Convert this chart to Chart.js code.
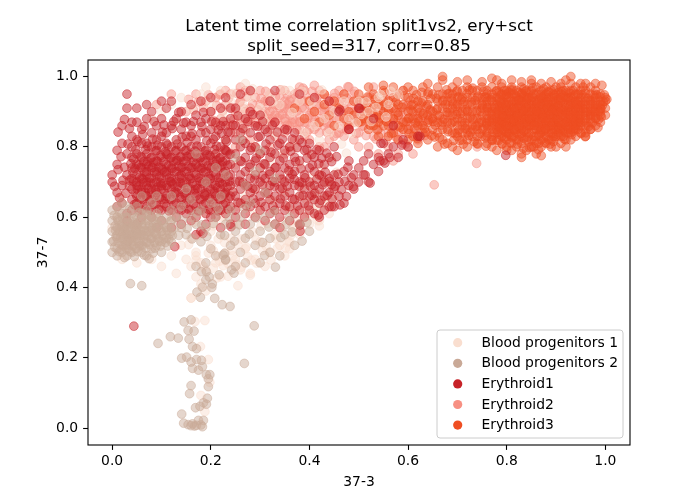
<!DOCTYPE html>
<html><head><meta charset="utf-8">
<script src="https://cdn.jsdelivr.net/npm/chart.js@4.4.0/dist/chart.umd.min.js"></script>
<style>html,body{margin:0;padding:0;background:#fff;}canvas{display:block;}</style>
</head><body>
<canvas id="c" width="700" height="500"></canvas>
<script>
const categories = ['Blood progenitors 1','Blood progenitors 2','Erythroid1','Erythroid2','Erythroid3'];
const titleLines = ['Latent time correlation split1vs2, ery+sct','split_seed=317, corr=0.85'];
const xLabel = '37-3';
const yLabel = '37-7';
const xTicks = [0, 0.2, 0.4, 0.6, 0.8, 1.0];
const yTicks = [0, 0.2, 0.4, 0.6, 0.8, 1.0];

// values, flat pairs x,y
const bp1 = [
.15,.48,.16,.46,.17,.50,.18,.47,.19,.45,.17,.43,.18,.41,.19,.39,.16,.37,.20,.52,.21,.47,.22,.43,.23,.50,.24,.54,.25,.48,.26,.45,.27,.51,.28,.44,.29,.48,.30,.53,
.31,.46,.32,.50,.33,.55,.34,.52,.35,.49,.36,.53,.37,.57,.38,.55,.39,.60,.40,.58,.41,.62,.42,.59,.43,.64,.44,.61,.45,.66,.36,.62,.38,.66,.40,.69,.42,.72,.44,.70,
.20,.56,.21,.62,.22,.59,.23,.65,.24,.68,.25,.63,.26,.58,.26,.70,.27,.66,.28,.61,.28,.72,.29,.68,.30,.63,.30,.74,.31,.69,.32,.65,.32,.76,.33,.62,.34,.71,.34,.78,
.35,.67,.36,.73,.37,.80,.38,.75,.39,.84,.40,.78,.41,.86,.42,.82,.43,.88,.44,.84,.45,.90,.46,.86,.47,.93,.48,.88,.50,.93,.52,.90,.54,.94,.56,.92,.58,.95,
.10,.90,.12,.92,.14,.94,.16,.91,.18,.95,.20,.92,.22,.96,.24,.93,.26,.90,.28,.94,.30,.91,.32,.95,.34,.92,.36,.96,.38,.93,.08,.88,.13,.87,.19,.97,.27,.98,
.02,.66,.06,.62,.10,.63,.12,.60,.03,.70,.15,.70,.19,.66,.23,.69,.17,.74,.21,.78,.25,.75,.29,.80,.33,.84,.31,.87,.27,.84,.23,.82,
.00,.57,.01,.60,.02,.48,.05,.47,.08,.48,.10,.46,.12,.49,.14,.52,.11,.55,.13,.44,.16,.54,.09,.61,
.168,.303,.188,.306,.179,.232,.195,.195,.198,.13,.180,.093,.188,.047,.17,.478,.16,.37,.212,.427,.262,.458,.28,.435,.293,.469,.225,.462,.17,.49,.185,.46,.36,.51,.357,.53,.417,.59,.42,.575,
.155,.522,.165,.585,.175,.548,.185,.612,.195,.498,.205,.575,.215,.538,.225,.602,.235,.468,.245,.578,.255,.522,.265,.642,.275,.488,.285,.558,.295,.612,.305,.505,
.315,.582,.325,.648,.335,.512,.345,.588,.355,.632,.365,.575,.375,.618,.385,.685,.395,.648,.405,.712,.415,.668,.425,.742,.435,.698,.445,.768,.455,.728,.465,.808,
.475,.782,.485,.838,.495,.868,.505,.892,.515,.928,.525,.872,.535,.912,.545,.948,.555,.885,.565,.958,
.225,.888,.245,.952,.265,.918,.285,.965,.305,.885,.325,.928,.345,.962,.365,.898,.385,.958,.405,.928,.425,.962,.205,.455,.235,.432,.255,.405,.215,.49,.245,.49,
.205,.505,.218,.475,.228,.528,.242,.505,.252,.465,.262,.538,.272,.515,.282,.478,.292,.535,.302,.575,.312,.518,.322,.478,.332,.538,.342,.565,.352,.512,.362,.548,
.372,.592,.382,.562,.392,.618,.402,.602,.412,.638,.422,.622,.432,.655,.442,.642
];
const bp2 = [
.00,.53,.00,.56,.00,.59,.00,.62,.00,.50,.01,.51,.01,.54,.01,.57,.01,.60,.01,.63,.01,.49,.02,.52,.02,.55,.02,.58,.02,.61,.02,.50,.02,.64,
.03,.51,.03,.54,.03,.57,.03,.60,.03,.63,.03,.49,.04,.52,.04,.55,.04,.58,.04,.61,.04,.50,.04,.53,.05,.51,.05,.54,.05,.57,.05,.60,.05,.56,.05,.63,
.06,.52,.06,.55,.06,.58,.06,.61,.06,.50,.07,.53,.07,.56,.07,.59,.07,.62,.07,.49,.08,.51,.08,.54,.08,.57,.08,.60,.08,.64,.09,.52,.09,.55,.09,.58,.09,.61,
.10,.53,.10,.56,.10,.59,.10,.50,.11,.54,.11,.57,.11,.60,.12,.53,.12,.56,.12,.59,.12,.62,
.02,.56,.03,.55,.04,.57,.03,.58,.05,.55,.02,.53,.04,.54,.06,.56,.01,.55,.03,.52,.025,.565,.035,.535,.045,.585,.015,.575,.055,.525,.065,.545,.075,.575,.085,.555,
.005,.515,.008,.545,.006,.575,.004,.605,.012,.528,.015,.558,.013,.588,.018,.508,.022,.538,.024,.568,.021,.598,.027,.522,.029,.552,.032,.582,.034,.508,.036,.538,
.038,.568,.041,.598,.043,.518,.046,.548,.048,.578,.052,.502,.054,.532,.057,.562,.059,.592,.062,.518,.064,.548,.067,.578,.069,.608,.072,.528,.074,.558,.078,.538,
.081,.568,.083,.498,.086,.528,.088,.588,.092,.538,.095,.568,.098,.518,.102,.548,.105,.578,.108,.528,.112,.562,.115,.538,.118,.588,.122,.548,.128,.572,.025,.485,
.045,.488,.065,.492,.075,.482,.015,.615,.035,.622,.055,.612,.075,.605,.095,.598,
.003,.532,.007,.562,.011,.592,.014,.502,.017,.542,.019,.572,.023,.518,.026,.552,.028,.598,.031,.532,.033,.562,.037,.502,.039,.548,.042,.578,.044,.532,.047,.562,
.049,.512,.051,.552,.053,.585,.056,.518,.058,.548,.061,.572,.063,.532,.066,.562,.068,.512,.071,.548,.073,.592,.076,.522,.079,.562,.082,.542,.084,.582,.087,.512,
.089,.552,.093,.578,.096,.532,.099,.558,.104,.538,.109,.572,.113,.518,.117,.552,
.13,.60,.14,.57,.14,.63,.15,.55,.16,.60,.16,.65,.17,.58,.18,.62,.18,.53,.19,.57,.20,.64,.20,.51,.21,.60,.22,.55,.22,.66,.23,.58,.24,.52,.24,.62,.25,.56,.26,.60,
.26,.50,.27,.54,.28,.58,.28,.64,.29,.52,.30,.56,.31,.60,.32,.54,.33,.58,.34,.49,.35,.55,.36,.60,.37,.52,.38,.58,.40,.56,.30,.47,.25,.46,.23,.48,.21,.49,.19,.47,
.17,.46,.27,.47,.32,.50,.12,.66,.15,.68,.19,.70,.23,.72,.27,.69,.31,.67,.09,.66,.06,.66,.21,.74,.25,.77,.29,.73,.33,.71,.17,.78,.26,.82,.30,.79,
.135,.548,.142,.592,.152,.568,.162,.538,.172,.612,.182,.578,.192,.545,.205,.582,.215,.625,.228,.548,.238,.598,.248,.532,.258,.578,.268,.625,.278,.552,.292,.598,
.305,.528,.318,.572,.328,.615,.342,.542,.352,.578,.365,.558,.385,.532,.395,.585,
.037,.411,.060,.405,.093,.241,.118,.26,.134,.256,.146,.302,.16,.308,.154,.278,.166,.276,.156,.253,.163,.232,.171,.226,.141,.199,.151,.202,.160,.188,.171,.195,
.181,.193,.163,.17,.175,.165,.183,.175,.191,.152,.198,.152,.195,.14,.160,.121,.157,.098,.195,.118,.193,.085,.185,.072,.178,.062,.169,.058,.191,.068,.141,.040,
.145,.014,.154,.010,.163,.012,.171,.008,.180,.009,.185,.022,.175,.022,.167,.006,.183,.004,.160,.007,.268,.184,.288,.291,.331,.458,.309,.491,.208,.369,.223,.351,
.239,.346,.179,.372,.172,.387,.183,.401,.202,.40,.190,.422,.197,.43,.203,.41,.181,.445,.191,.445,.217,.436,.247,.441,.230,.478,.225,.492,.228,.497,.242,.45
];
const ery1 = [
.04,.62,.04,.65,.04,.68,.04,.71,.04,.74,.04,.77,.04,.80,
.05,.63,.05,.66,.05,.69,.05,.72,.05,.75,.05,.78,.05,.64,.05,.70,
.06,.62,.06,.65,.06,.68,.06,.71,.06,.74,.06,.77,.06,.81,.06,.67,
.07,.63,.07,.66,.07,.69,.07,.72,.07,.75,.07,.78,.07,.73,.07,.70,
.08,.62,.08,.65,.08,.68,.08,.71,.08,.74,.08,.77,.08,.80,.08,.67,
.09,.64,.09,.67,.09,.70,.09,.73,.09,.76,.09,.79,.09,.82,.09,.72,
.10,.62,.10,.65,.10,.68,.10,.71,.10,.74,.10,.77,.10,.80,.10,.69,
.11,.63,.11,.66,.11,.69,.11,.72,.11,.75,.11,.78,.11,.73,.11,.84,
.12,.62,.12,.65,.12,.68,.12,.71,.12,.74,.12,.77,.12,.80,.12,.70,
.13,.60,.13,.64,.13,.67,.13,.70,.13,.73,.13,.76,.13,.79,.13,.82,
.14,.62,.14,.65,.14,.68,.14,.71,.14,.74,.14,.77,.14,.80,.14,.72,
.15,.61,.15,.64,.15,.67,.15,.70,.15,.73,.15,.76,.15,.79,.15,.83,
.16,.62,.16,.65,.16,.68,.16,.71,.16,.74,.16,.77,.16,.80,.16,.86,
.17,.60,.17,.63,.17,.66,.17,.69,.17,.72,.17,.75,.17,.78,.17,.82,
.18,.62,.18,.65,.18,.68,.18,.71,.18,.74,.18,.77,.18,.80,.18,.84,
.19,.61,.19,.64,.19,.67,.19,.70,.19,.73,.19,.76,.19,.79,.19,.88,
.20,.62,.20,.65,.20,.68,.20,.71,.20,.74,.20,.77,.20,.81,.20,.85,
.21,.60,.21,.63,.21,.66,.21,.69,.21,.72,.21,.75,.21,.78,.21,.83,
.22,.62,.22,.65,.22,.68,.22,.71,.22,.74,.22,.77,.22,.80,.22,.86,
.23,.61,.23,.64,.23,.67,.23,.70,.23,.73,.23,.76,.23,.79,.23,.82,
.24,.63,.24,.66,.24,.69,.24,.72,.24,.75,.24,.78,.24,.84,.24,.88,
.045,.636,.047,.668,.043,.702,.046,.738,.044,.765,.048,.792,.055,.618,.057,.652,.053,.688,.056,.714,.054,.748,.058,.772,.052,.815,
.065,.638,.067,.671,.063,.698,.066,.728,.064,.758,.068,.792,.062,.835,.075,.622,.077,.648,.073,.682,.076,.712,.074,.745,.078,.768,.072,.802,
.085,.636,.087,.662,.083,.696,.086,.728,.084,.756,.088,.788,.082,.822,.095,.622,.097,.656,.093,.686,.096,.715,.094,.742,.098,.775,.092,.805,
.105,.638,.107,.668,.103,.695,.106,.728,.104,.758,.108,.786,.102,.842,.115,.618,.117,.652,.113,.684,.116,.712,.114,.746,.118,.768,.112,.805,
.125,.635,.127,.666,.123,.694,.126,.728,.124,.758,.128,.788,.122,.852,.135,.622,.137,.655,.133,.688,.136,.716,.134,.745,.138,.772,.132,.808,
.145,.635,.147,.668,.143,.695,.146,.728,.144,.758,.148,.788,.142,.828,.155,.622,.157,.652,.153,.684,.156,.716,.154,.745,.158,.778,.152,.812,
.165,.638,.167,.668,.163,.696,.166,.726,.164,.758,.168,.788,.162,.838,.175,.618,.177,.652,.173,.682,.176,.712,.174,.742,.178,.768,.172,.802,
.185,.636,.187,.666,.183,.696,.186,.728,.184,.756,.188,.788,.182,.858,.195,.622,.197,.654,.193,.686,.196,.716,.194,.746,.198,.775,.192,.818,
.205,.638,.207,.668,.203,.695,.206,.728,.204,.758,.208,.792,.202,.872,.215,.618,.217,.652,.213,.684,.216,.712,.214,.742,.218,.768,.212,.802,
.225,.636,.227,.664,.223,.694,.226,.726,.224,.758,.228,.792,.222,.838,.235,.622,.237,.654,.233,.686,.236,.716,.234,.748,.238,.778,.232,.815,
.035,.705,.042,.728,.052,.678,.058,.742,.062,.708,.068,.662,.072,.758,.078,.698,.082,.742,.088,.678,.092,.758,.098,.698,.102,.735,.108,.652,.112,.778,.118,.702,
.122,.738,.128,.672,.132,.762,.138,.698,.142,.742,.148,.662,.152,.772,.158,.708,.162,.742,.168,.678,.172,.768,.178,.702,.182,.738,.188,.662,.192,.778,.198,.708,
.202,.742,.208,.672,.212,.762,.218,.698,.222,.748,.228,.668,.232,.788,.238,.702,
.205,.822,.215,.848,.225,.872,.235,.842,.245,.862,.255,.888,.265,.852,.275,.872,.285,.892,.295,.858,.305,.872,.315,.842,.325,.862,.335,.842,.345,.822,.355,.848,
.365,.822,.375,.798,.385,.812,.395,.792,.405,.778,.415,.792,.425,.768,.435,.782,.445,.758,.455,.772,.245,.672,.265,.698,.285,.682,.305,.718,.325,.702,.345,.682,
.365,.722,.385,.698,.405,.662,.425,.718,.445,.692,.105,.862,.125,.872,.145,.868,.165,.872,.185,.898,.135,.898,.085,.872,.065,.858,
.00,.72,.00,.70,.01,.63,.01,.67,.01,.75,.02,.81,.02,.86,.02,.64,.02,.69,.03,.95,.03,.78,.03,.91,.03,.72,.03,.61,.04,.87,.04,.83,.05,.87,.05,.82,.06,.85,.06,.60,
.07,.81,.07,.88,.08,.84,.08,.90,.09,.86,.10,.83,.10,.88,.11,.81,.11,.91,.12,.86,.12,.93,.13,.88,.14,.85,.14,.90,.15,.87,.16,.83,.16,.92,.17,.89,.18,.87,.18,.93,
.19,.84,.20,.90,.20,.94,.21,.87,.22,.91,.23,.86,.23,.94,.24,.91,.10,.93,.07,.92,.05,.91,.01,.79,
.005,.688,.012,.735,.015,.655,.018,.772,.022,.705,.025,.742,.028,.668,.032,.808,.035,.688,.038,.752,.012,.842,.025,.878,.035,.852,
.03,.59,.05,.58,.08,.60,.10,.59,.12,.57,.127,.516,.14,.58,.16,.59,.18,.56,.19,.58,.20,.60,.22,.57,.24,.58,.25,.60,.27,.58,.09,.57,.17,.55,.184,.554,.241,.573,
.25,.62,.25,.66,.25,.70,.25,.74,.25,.78,.25,.82,.25,.86,.25,.91,.26,.64,.26,.68,.26,.72,.26,.76,.26,.80,.26,.84,.26,.95,
.27,.61,.27,.65,.27,.69,.27,.73,.27,.77,.27,.81,.27,.88,.28,.63,.28,.67,.28,.71,.28,.75,.28,.79,.28,.84,.28,.90,
.29,.60,.29,.64,.29,.68,.29,.72,.29,.76,.29,.80,.29,.86,.30,.62,.30,.66,.30,.70,.30,.74,.30,.78,.30,.83,.30,.89,
.31,.59,.31,.63,.31,.67,.31,.71,.31,.75,.31,.79,.31,.85,.32,.61,.32,.65,.32,.69,.32,.73,.32,.77,.32,.82,.32,.93,
.33,.58,.33,.62,.33,.66,.33,.70,.33,.74,.33,.78,.33,.87,.34,.60,.34,.64,.34,.68,.34,.72,.34,.76,.34,.81,.34,.57,
.35,.62,.35,.66,.35,.70,.35,.74,.35,.79,.35,.85,.36,.59,.36,.63,.36,.67,.36,.71,.36,.75,.36,.80,
.37,.61,.37,.65,.37,.69,.37,.73,.37,.77,.37,.84,.38,.58,.38,.62,.38,.66,.38,.70,.38,.76,.38,.82,
.39,.60,.39,.64,.39,.68,.39,.72,.39,.79,.40,.62,.40,.66,.40,.70,.40,.74,.40,.81,.41,.61,.41,.65,.41,.69,.41,.73,.41,.77,
.42,.60,.42,.64,.42,.68,.42,.72,.42,.79,.43,.62,.43,.66,.43,.70,.43,.75,.44,.63,.44,.67,.44,.71,.44,.77,.45,.63,.45,.68,.45,.72,.45,.80,
.255,.642,.258,.702,.262,.758,.265,.818,.272,.632,.275,.688,.278,.742,.282,.798,.286,.652,.289,.708,.292,.768,.296,.828,.302,.642,.305,.692,.308,.752,.312,.808,
.316,.668,.319,.722,.322,.785,.326,.632,.329,.688,.332,.742,.336,.805,.341,.652,.344,.708,.347,.768,.352,.632,.355,.688,.358,.732,.362,.788,.366,.652,.369,.708,
.372,.758,.376,.632,.379,.688,.383,.738,.387,.662,.391,.712,.395,.768,.398,.632,.402,.688,.406,.748,.411,.668,.415,.708,.419,.752,.423,.648,.427,.692,.432,.728,
.436,.662,.441,.702,.446,.652,.452,.688,.458,.722,.465,.678,.472,.702,.478,.742,.485,.712,
.46,.66,.46,.70,.47,.73,.47,.64,.48,.69,.48,.76,.49,.68,.49,.72,.50,.74,.50,.70,.51,.72,.51,.76,.52,.70,.52,.78,.53,.75,.54,.77,.54,.73,.55,.76,.55,.81,.56,.78,
.57,.80,.58,.77,.59,.82,.60,.80,.62,.83,.46,.90,.50,.91,.48,.85,.53,.88,.57,.86,.44,.93,.41,.94,.38,.95,.33,.96,.28,.96,.798,.776,.044,.29,.523,.697,.513,.72,
.489,.687,.475,.659,.462,.635,.445,.63,.418,.606,.381,.578,.381,.56,.553,.754,.543,.76,.563,.77,.587,.805,.545,.81,.624,.83,.462,.905,.502,.909,.48,.85
];
const ery2 = [
.20,.90,.21,.94,.22,.88,.23,.92,.24,.86,.24,.95,.25,.90,.26,.88,.26,.93,.27,.85,.27,.96,.28,.91,.28,.87,.29,.94,.29,.89,.30,.86,.30,.92,.30,.96,.22,.95,.25,.84,
.27,.90,.21,.86,.23,.96,.26,.97,.19,.93,.17,.95,.28,.82,.29,.80,.09,.92,.12,.95,.15,.90,.155,.935,.165,.905,.175,.928,.185,.912,.195,.948,
.31,.88,.31,.93,.32,.85,.32,.90,.32,.95,.33,.87,.33,.92,.33,.83,.34,.89,.34,.94,.34,.86,.35,.91,.35,.88,.35,.96,.35,.84,.36,.93,.36,.89,.36,.86,.37,.91,.37,.95,
.37,.87,.37,.82,.38,.89,.38,.93,.38,.85,.39,.91,.39,.87,.39,.96,.40,.89,.40,.93,.40,.85,.40,.82,.31,.90,.33,.89,.35,.93,.36,.91,.38,.87,.39,.93,.34,.91,.32,.88,
.38,.97,.36,.80,.39,.83,
.41,.90,.41,.94,.41,.87,.42,.92,.42,.88,.42,.84,.43,.90,.43,.95,.43,.86,.44,.88,.44,.93,.44,.82,.45,.90,.45,.86,.45,.94,.46,.88,.46,.92,.46,.84,.47,.91,.47,.87,
.47,.95,.48,.89,.48,.93,.48,.85,.49,.90,.49,.87,.49,.95,.50,.88,.50,.92,.50,.84,.42,.96,.44,.90,.46,.96,.48,.97,.41,.85,.43,.80,.45,.83,.47,.83,.49,.82,.50,.80,
.44,.85,.47,.89,.43,.88,.387,.967,.478,.971,.41,.975,
.205,.875,.212,.918,.218,.948,.224,.902,.231,.872,.236,.938,.242,.912,.247,.878,.253,.952,.258,.925,.262,.862,.267,.908,.272,.942,.276,.878,.281,.958,.285,.922,
.291,.868,.295,.905,.302,.938,.306,.878,.311,.958,.316,.918,.321,.872,.326,.908,.331,.942,.336,.882,.341,.962,.345,.918,.351,.872,.355,.948,.358,.902,.363,.938,
.367,.878,.372,.922,.376,.955,.381,.872,.385,.912,.391,.948,.396,.882,.401,.918,.405,.958,.411,.878,.415,.918,.421,.948,.425,.872,.431,.912,.436,.938,.441,.868,
.446,.908,.451,.952,.455,.878,.461,.928,.465,.852,.471,.908,.476,.938,.481,.872,.486,.918,.491,.958,.496,.878,.502,.932,.507,.858,.513,.918,.518,.878,.524,.942,
.529,.898,.534,.862,.539,.928,.545,.838,.551,.902,.557,.872,.563,.938,.569,.852,.574,.902,.579,.822,.585,.878,.592,.842,.598,.918,.604,.862,.612,.838,.618,.902,
.626,.862,.634,.832,.642,.878,
.305,.895,.315,.932,.325,.882,.335,.918,.345,.892,.355,.922,.365,.868,.375,.902,.385,.932,.395,.868,.405,.898,.415,.938,.425,.902,.435,.868,.445,.928,.455,.902,
.465,.938,.475,.872,.485,.898,.495,.932,.505,.902,.515,.872,.525,.912,.535,.942,.545,.878,.555,.908,.565,.872,.575,.942,.585,.898,.595,.862,.605,.932,.615,.878,
.625,.918,.635,.882,.645,.902,.355,.862,.375,.848,.395,.842,.415,.858,.435,.842,.455,.838,.475,.848,.495,.838,.515,.832,.535,.822,.555,.818,.575,.828,.595,.808,
.51,.86,.51,.91,.52,.89,.52,.94,.53,.87,.53,.83,.54,.90,.54,.85,.55,.88,.55,.92,.56,.84,.56,.89,.57,.86,.57,.92,.58,.88,.58,.84,.59,.90,.59,.81,.60,.87,.60,.92,
.61,.85,.62,.89,.62,.82,.63,.87,.64,.91,.64,.84,.65,.88,.52,.80,.54,.78,.56,.80,.58,.78,.60,.80,.57,.76,.61,.78,.53,.97,.56,.95,.59,.96,
.67,.88,.70,.91,.72,.85,.75,.93,.78,.88,.80,.84,.83,.92,.86,.89,.88,.83,.90,.91,.93,.87,.95,.92,.97,.89,.74,.80,.77,.82,.96,.85,.98,.95,.85,.80,
.739,.753,.653,.692,.42,.80,.32,.80,.35,.78,.30,.78,.25,.80
];
const ery3 = [
.37,.91,.39,.88,.40,.93,.41,.90,.42,.87,.43,.92,.43,.95,.44,.89,.45,.86,.45,.93,.46,.91,.47,.88,.47,.95,.48,.90,.48,.86,.49,.93,.49,.89,.50,.91,.50,.87,.50,.95,
.51,.88,.51,.93,.52,.85,.52,.91,.53,.95,.53,.89,.54,.83,.54,.87,.54,.92,.55,.90,.55,.96,.56,.86,.56,.93,.57,.88,.57,.84,.57,.91,.58,.95,.58,.89,.58,.82,.59,.87,
.59,.92,.60,.90,.60,.85,.60,.94,.61,.88,.61,.83,.61,.96,.62,.91,.62,.86,.62,.93,.63,.89,.63,.84,.63,.97,.64,.92,.64,.87,.64,.82,.65,.90,.65,.95,.65,.85,.52,.88,
.53,.92,.55,.86,.56,.90,.57,.94,.59,.85,.59,.96,.60,.88,.61,.92,.62,.88,.63,.93,.64,.89,.56,.83,.58,.86,.60,.82,.62,.83,.65,.88,.54,.89,.55,.93,.58,.92,.61,.90,
.63,.86,.64,.95,.51,.90,.53,.86,.57,.97,.52,.97,.55,.975,
.505,.872,.512,.908,.518,.942,.523,.862,.527,.898,.533,.935,.538,.848,.542,.882,.547,.918,.552,.954,.556,.872,.561,.905,.566,.838,.571,.878,.575,.928,.579,.898,
.584,.856,.588,.912,.593,.945,.597,.872,.602,.838,.606,.905,.611,.938,.615,.868,.619,.824,.624,.898,.628,.955,.633,.852,.637,.915,.642,.876,.646,.938,.648,.832,
.602,.882,.607,.918,.613,.852,.617,.948,.622,.872,.627,.925,.631,.895,.636,.842,.641,.955,.645,.905,.651,.872,.654,.828,.657,.938,.663,.888,.668,.862,.671,.932,
.674,.808,.679,.898,.683,.952,.687,.866,.691,.922,.695,.838,.698,.892,.702,.942,.705,.818,.709,.872,.713,.928,.716,.852,.721,.902,.724,.962,.727,.842,.732,.878,
.736,.932,.741,.808,.744,.868,.747,.902,.752,.852,.756,.942,.758,.802,
.66,.84,.66,.89,.66,.93,.66,.97,.67,.82,.67,.87,.67,.91,.67,.95,.67,1.0,.67,.99,.68,.85,.68,.89,.68,.93,.68,.81,.69,.87,.69,.91,.69,.95,.69,.84,.69,.80,.70,.83,
.70,.88,.70,.92,.70,.96,.71,.86,.71,.90,.71,.94,.71,.82,.72,.84,.72,.88,.72,.92,.72,.97,.72,.80,.73,.86,.73,.90,.73,.94,.73,.83,.74,.88,.74,.92,.74,.96,.74,.85,
.74,.81,.75,.87,.75,.91,.75,.94,.75,.83,.66,.91,.67,.85,.68,.87,.68,.95,.69,.89,.69,.93,.70,.86,.70,.90,.70,.94,.71,.88,.71,.92,.71,.84,.72,.86,.72,.90,.72,.94,
.73,.88,.73,.92,.73,.96,.74,.86,.74,.90,.74,.94,.75,.89,.75,.85,.75,.97,.66,.87,.68,.91,.70,.84,.71,.96,.73,.85,.75,.92,.69,.97,.67,.93,.72,.82,.74,.83,
.655,.862,.658,.905,.662,.948,.664,.826,.673,.878,.676,.921,.678,.962,.681,.843,.685,.897,.688,.938,.692,.818,.694,.872,.697,.915,.699,.957,.703,.848,.706,.894,
.708,.934,.712,.808,.715,.868,.717,.906,.719,.951,.723,.832,.726,.885,.728,.927,.731,.967,.734,.815,.737,.858,.739,.903,.742,.944,.746,.838,.748,.878,.751,.918,
.753,.958,.757,.826,.759,.866,.761,.912,
.76,.81,.76,.84,.76,.86,.76,.88,.76,.90,.76,.92,.76,.94,.76,.96,.76,.83,.76,.87,.76,.91,.76,.95,.76,.89,.76,.93,
.77,.80,.77,.83,.77,.85,.77,.87,.77,.89,.77,.91,.77,.93,.77,.95,.77,.97,.77,.86,.77,.90,.77,.94,.77,.88,.77,.82,
.78,.79,.78,.82,.78,.84,.78,.86,.78,.88,.78,.90,.78,.92,.78,.94,.78,.96,.78,.99,.78,.85,.78,.89,.78,.93,.78,.87,
.79,.81,.79,.83,.79,.85,.79,.87,.79,.89,.79,.91,.79,.93,.79,.95,.79,.97,.79,.84,.79,.88,.79,.92,.79,.90,.79,.86,
.80,.80,.80,.82,.80,.84,.80,.86,.80,.88,.80,.90,.80,.92,.80,.94,.80,.96,.80,.83,.80,.87,.80,.91,.80,.95,.80,.89,
.81,.79,.81,.81,.81,.83,.81,.85,.81,.87,.81,.89,.81,.91,.81,.93,.81,.95,.81,.97,.81,.86,.81,.90,.81,.88,.81,.92,
.82,.80,.82,.82,.82,.84,.82,.86,.82,.88,.82,.90,.82,.92,.82,.94,.82,.96,.82,.85,.82,.89,.82,.93,.82,.87,.82,.91,
.83,.78,.83,.81,.83,.83,.83,.85,.83,.87,.83,.89,.83,.91,.83,.93,.83,.95,.83,.97,.83,.86,.83,.90,.83,.94,.83,.88,
.84,.79,.84,.82,.84,.84,.84,.86,.84,.88,.84,.90,.84,.92,.84,.94,.84,.96,.84,.85,.84,.89,.84,.93,.84,.87,.84,.91,
.85,.80,.85,.82,.85,.84,.85,.86,.85,.88,.85,.90,.85,.92,.85,.94,.85,.96,.85,.98,.85,.87,.85,.91,.85,.89,.85,.93,
.86,.78,.86,.81,.86,.83,.86,.85,.86,.87,.86,.89,.86,.91,.86,.93,.86,.95,.86,.97,.86,.86,.86,.90,.86,.88,.86,.92,
.87,.80,.87,.82,.87,.84,.87,.86,.87,.88,.87,.90,.87,.92,.87,.94,.87,.96,.87,.85,.87,.89,.87,.93,.87,.87,.87,.91,
.88,.81,.88,.83,.88,.85,.88,.87,.88,.89,.88,.91,.88,.93,.88,.95,.88,.97,.88,.86,.88,.90,.88,.94,.88,.88,.88,.92,
.89,.80,.89,.82,.89,.84,.89,.86,.89,.88,.89,.90,.89,.92,.89,.94,.89,.96,.89,.85,.89,.89,.89,.93,.89,.87,.89,.91,
.90,.80,.90,.83,.90,.85,.90,.87,.90,.89,.90,.91,.90,.93,.90,.95,.90,.97,.90,.86,.90,.90,.90,.92,.90,.88,.90,.94,
.785,.835,.785,.855,.785,.875,.785,.895,.785,.915,.785,.935,.785,.955,.785,.865,.795,.825,.795,.845,.795,.865,.795,.885,.795,.905,.795,.925,.795,.945,.795,.96,
.805,.84,.805,.86,.805,.88,.805,.90,.805,.92,.805,.94,.805,.835,.805,.955,.815,.83,.815,.85,.815,.87,.815,.89,.815,.91,.815,.93,.815,.95,.815,.875,
.825,.835,.825,.855,.825,.875,.825,.895,.825,.915,.825,.935,.825,.955,.825,.82,.835,.825,.835,.845,.835,.865,.835,.885,.835,.905,.835,.925,.835,.945,.835,.965,
.845,.84,.845,.86,.845,.88,.845,.90,.845,.92,.845,.94,.845,.815,.845,.955,.855,.83,.855,.85,.855,.87,.855,.89,.855,.91,.855,.93,.855,.95,.855,.80,
.865,.835,.865,.855,.865,.875,.865,.895,.865,.915,.865,.935,.865,.955,.865,.81,.875,.825,.875,.845,.875,.865,.875,.885,.875,.905,.875,.925,.875,.945,.875,.965,
.885,.84,.885,.86,.885,.88,.885,.90,.885,.92,.885,.94,.885,.82,.885,.955,.895,.83,.895,.85,.895,.87,.895,.89,.895,.91,.895,.93,.895,.95,.895,.815,
.905,.835,.905,.855,.905,.875,.905,.895,.905,.915,.905,.935,.905,.955,.905,.84,.915,.845,.915,.865,.915,.885,.915,.905,.915,.925,.915,.945,.915,.83,.915,.96,
.925,.84,.925,.86,.925,.88,.925,.90,.925,.92,.925,.94,.925,.85,.925,.955,.935,.845,.935,.865,.935,.885,.935,.905,.935,.925,.935,.945,.935,.875,.935,.96,
.945,.85,.945,.87,.945,.89,.945,.91,.945,.93,.945,.95,.945,.88,.945,.86,
.762,.852,.766,.898,.768,.935,.771,.818,.773,.876,.776,.912,.779,.958,.782,.842,.784,.904,.787,.928,.791,.808,.793,.872,.797,.918,.799,.948,.802,.852,.806,.894,
.808,.962,.811,.826,.813,.878,.817,.906,.819,.944,.822,.808,.826,.862,.828,.918,.831,.952,.834,.796,.837,.878,.839,.912,.842,.938,.846,.798,.848,.862,.851,.902,
.853,.968,.857,.818,.859,.884,.862,.924,.864,.792,.868,.848,.871,.896,.873,.938,.877,.812,.879,.872,.882,.912,.884,.958,.888,.808,.891,.862,.893,.904,.897,.946,
.899,.828,.902,.878,.904,.918,.908,.852,.911,.958,.913,.892,.917,.822,.919,.934,.922,.872,.926,.912,.928,.952,.932,.835,.934,.892,.938,.928,.941,.862,.944,.948,
.948,.902,.951,.838,.953,.918,.957,.874,.959,.952,.962,.898,.966,.858,.968,.932,.972,.904,.974,.868,.977,.946,.981,.882,.983,.918,.987,.902,.989,.942,.992,.885,
.994,.918,
.765,.872,.772,.842,.778,.908,.783,.818,.788,.948,.792,.888,.798,.858,.803,.928,.807,.812,.812,.962,.816,.848,.821,.888,.824,.932,.829,.838,.833,.902,.838,.958,
.843,.828,.847,.878,.852,.942,.856,.862,.861,.902,.866,.832,.869,.948,.874,.882,.878,.852,.883,.928,.887,.892,.892,.838,.896,.962,.901,.902,.906,.868,.909,.932,
.914,.848,.918,.898,.923,.938,.927,.868,.931,.908,.936,.852,.942,.922,.947,.882,.952,.948,.956,.908,.961,.868,.965,.938,.969,.892,.973,.922,.978,.902,.982,.948,
.986,.878,.991,.908,.996,.928,
.91,.81,.91,.83,.91,.85,.91,.87,.91,.89,.91,.91,.91,.93,.91,.95,.91,.97,.91,.86,.91,.90,.91,.94,
.92,.82,.92,.84,.92,.86,.92,.88,.92,.90,.92,.92,.92,.94,.92,.96,.92,.99,.92,.87,.92,.91,.92,.89,
.93,.82,.93,.84,.93,.86,.93,.88,.93,.90,.93,.92,.93,.94,.93,.96,.93,.98,.93,.85,.93,.89,.93,.93,
.94,.83,.94,.85,.94,.87,.94,.89,.94,.91,.94,.93,.94,.95,.94,.97,.94,.86,.94,.90,.94,.92,.94,.88,
.95,.84,.95,.86,.95,.88,.95,.90,.95,.92,.95,.94,.95,.96,.95,.87,.95,.91,.95,.93,.95,.89,
.96,.84,.96,.86,.96,.88,.96,.90,.96,.92,.96,.94,.96,.96,.96,.98,.96,.89,.96,.91,.96,.93,
.97,.85,.97,.87,.97,.89,.97,.91,.97,.93,.97,.95,.97,.97,.97,.88,.97,.92,.97,.90,
.98,.86,.98,.88,.98,.90,.98,.92,.98,.94,.98,.96,.98,.89,.98,.93,.98,.91,
.99,.87,.99,.89,.99,.91,.99,.93,.99,.95,.99,.90,.99,.92,1.0,.89,1.0,.91,1.0,.93,1.0,.94,
.83,.77,.87,.775,.80,.79,.92,.80,.96,.83,.70,.79,.66,.80,.62,.81,.77,.995,.85,.99,.93,1.0,.98,.98,.95,.98,.72,.99,.81,.99,.89,.985,
.60,.97,.64,.98,.70,.985,.75,.985,.79,.98,.83,.985,.87,.98,.91,.98,.955,.97,
1.003,.935,.998,.948,.993,.975,.985,.855,.97,.85,.959,.829
];

const colors = ['#f9decf', '#c9a997', '#c72228', '#f79083', '#ef4e22'];
const seriesValues = [bp1, bp2, ery1, ery2, ery3];
const drawOrder = [3, 1, 2, 5, 4]; // lower = drawn on top

function rgba(hex, a) {
  const n = parseInt(hex.slice(1), 16);
  return 'rgba(' + (n >> 16) + ',' + ((n >> 8) & 255) + ',' + (n & 255) + ',' + a + ')';
}
function toPoints(flat) {
  const out = [];
  for (let i = 0; i + 1 < flat.length; i += 2) out.push({x: flat[i], y: flat[i + 1]});
  return out;
}

const FONT = '"DejaVu Sans", "Liberation Sans", sans-serif';

const deco = {
  id: 'deco',
  afterDatasetsDraw(chart) {
    const ctx = chart.ctx, a = chart.chartArea;
    ctx.save();
    ctx.strokeStyle = '#000';
    ctx.lineWidth = 1.1;
    ctx.strokeRect(a.left, a.top, a.right - a.left, a.bottom - a.top);
    ctx.restore();
  },
  afterDraw(chart) {
    const ctx = chart.ctx, a = chart.chartArea;
    const cx = (a.left + a.right) / 2;
    ctx.save();
    ctx.fillStyle = '#000';
    ctx.textAlign = 'center';
    ctx.textBaseline = 'alphabetic';
    ctx.font = '16.7px ' + FONT;
    ctx.fillText(titleLines[0], cx, 31);
    ctx.fillText(titleLines[1], cx, 51);
    ctx.font = '13.9px ' + FONT;
    ctx.fillText(xLabel, cx, 486);
    ctx.save();
    ctx.translate(47, (a.top + a.bottom) / 2);
    ctx.rotate(-Math.PI / 2);
    ctx.fillText(yLabel, 0, 0);
    ctx.restore();
    // legend
    const lx = 437, ly = 330, lw = 186, lh = 108, r = 3;
    ctx.beginPath();
    ctx.moveTo(lx + r, ly);
    ctx.lineTo(lx + lw - r, ly);
    ctx.arcTo(lx + lw, ly, lx + lw, ly + r, r);
    ctx.lineTo(lx + lw, ly + lh - r);
    ctx.arcTo(lx + lw, ly + lh, lx + lw - r, ly + lh, r);
    ctx.lineTo(lx + r, ly + lh);
    ctx.arcTo(lx, ly + lh, lx, ly + lh - r, r);
    ctx.lineTo(lx, ly + r);
    ctx.arcTo(lx, ly, lx + r, ly, r);
    ctx.closePath();
    ctx.fillStyle = 'rgba(255,255,255,0.8)';
    ctx.fill();
    ctx.strokeStyle = '#cccccc';
    ctx.lineWidth = 1;
    ctx.stroke();
    ctx.textAlign = 'left';
    ctx.textBaseline = 'middle';
    ctx.font = '13.9px ' + FONT;
    categories.forEach((name, i) => {
      const y = 342.7 + i * 20.6;
      ctx.beginPath();
      ctx.arc(457.7, y, 4.6, 0, Math.PI * 2);
      ctx.fillStyle = colors[i];
      ctx.fill();
      ctx.fillStyle = '#000';
      ctx.fillText(name, 481.5, y + 0.5);
    });
    ctx.restore();
  }
};

new Chart(document.getElementById('c'), {
  type: 'scatter',
  data: {
    datasets: categories.map((name, i) => ({
      label: name,
      data: toPoints(seriesValues[i]),
      backgroundColor: rgba(colors[i], 0.48),
      borderColor: rgba(colors[i], 0.48),
      borderWidth: 1,
      pointRadius: 4.4,
      pointHoverRadius: 4.4,
      order: drawOrder[i]
    }))
  },
  options: {
    responsive: false,
    devicePixelRatio: 1,
    animation: false,
    events: [],
    layout: {padding: {top: 60, right: 70, bottom: 0, left: 0}},
    plugins: {legend: {display: false}, title: {display: false}, tooltip: {enabled: false}},
    scales: {
      x: {
        type: 'linear', min: -0.049, max: 1.05,
        afterBuildTicks: s => { s.ticks = xTicks.map(v => ({value: v})); },
        afterFit: s => { s.height = 55; },
        ticks: {callback: v => Number(v).toFixed(1), color: '#000', font: {family: FONT, size: 13.9}, padding: 3, maxRotation: 0, autoSkip: false},
        grid: {display: true, drawOnChartArea: false, drawTicks: true, tickLength: 4.9, tickWidth: 1.1, tickColor: '#000'},
        border: {display: false}
      },
      y: {
        type: 'linear', min: -0.048, max: 1.047,
        afterBuildTicks: s => { s.ticks = yTicks.map(v => ({value: v})); },
        afterFit: s => { s.width = 88; },
        ticks: {callback: v => Number(v).toFixed(1), color: '#000', font: {family: FONT, size: 13.9}, padding: 4.9, autoSkip: false},
        grid: {display: true, drawOnChartArea: false, drawTicks: true, tickLength: 4.9, tickWidth: 1.1, tickColor: '#000'},
        border: {display: false}
      }
    }
  },
  plugins: [deco]
});
</script>
</body></html>
